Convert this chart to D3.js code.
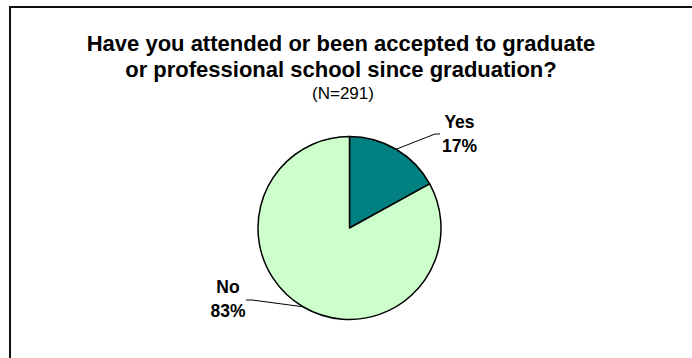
<!DOCTYPE html>
<html>
<head>
<meta charset="utf-8">
<script src="https://cdn.jsdelivr.net/npm/d3@7"></script>
<style>
  html, body { margin: 0; padding: 0; background: #fff; overflow: hidden; }
  svg { display: block; }
  text { font-family: Arial, "Liberation Sans", sans-serif; fill: #000; }
</style>
</head>
<body>
<svg id="chart" width="692" height="358"></svg>
<script>
// Survey responses
const categories = ["Yes", "No"];
const percents = [17, 83];
const colors = ["#008080", "#CCFFCC"];
const titleLines = [
  "Have you attended or been accepted to graduate",
  "or professional school since graduation?"
];
const subtitle = "(N=291)";

const svg = d3.select("#chart");
const W = +svg.attr("width"), H = +svg.attr("height");

// Frame edges (top and left; the frame runs on past the page)
svg.append("path")
  .attr("d", `M10,${H}V7H${W}`)
  .attr("fill", "none")
  .attr("stroke", "#111")
  .attr("stroke-width", 2);

// Title block
const titleX = 341;
svg.selectAll("text.title")
  .data(titleLines)
  .join("text")
  .attr("class", "title")
  .attr("x", titleX)
  .attr("y", (d, i) => 51 + i * 26)
  .attr("text-anchor", "middle")
  .style("font-size", "22px")
  .style("font-weight", "bold")
  .text(d => d);

svg.append("text")
  .attr("x", titleX + 2)
  .attr("y", 99)
  .attr("text-anchor", "middle")
  .style("font-size", "17px")
  .text(subtitle);

// Pie
const cx = 349.5, cy = 228, radius = 91.5;
const data = categories.map((c, i) => ({ name: c, value: percents[i], color: colors[i] }));

const pie = d3.pie().sort(null).value(d => d.value).startAngle(0).endAngle(2 * Math.PI);
const arc = d3.arc().innerRadius(0).outerRadius(radius);
const arcs = pie(data);

const g = svg.append("g").attr("transform", `translate(${cx},${cy})`);

g.selectAll("path.slice")
  .data(arcs)
  .join("path")
  .attr("class", "slice")
  .attr("d", arc)
  .attr("fill", d => d.data.color)
  .attr("stroke", "#000")
  .attr("stroke-width", 1.5)
  .attr("stroke-linejoin", "round");

// Label placement: text centre plus leader elbow/end, relative to the pie centre
const labelLayout = {
  Yes: { tx: 110, ty: -100, elbow: [85.5, -94], end: [90.5, -94] },
  No:  { tx: -121.5, ty: 65, elbow: [-97.5, 72], end: [-103.5, 72] }
};

arcs.forEach(a => {
  const L = labelLayout[a.data.name];
  const mid = (a.startAngle + a.endAngle) / 2;
  const p0 = [radius * Math.sin(mid), -radius * Math.cos(mid)];
  g.append("polyline")
    .attr("points", [p0, L.elbow, L.end].map(p => p.join(",")).join(" "))
    .attr("fill", "none")
    .attr("stroke", "#000")
    .attr("stroke-width", 1);

  const t = g.append("text")
    .attr("text-anchor", "middle")
    .style("font-size", "17.5px")
    .style("font-weight", "bold");
  t.append("tspan").attr("x", L.tx).attr("y", L.ty).text(a.data.name);
  t.append("tspan").attr("x", L.tx).attr("y", L.ty + 24).text(a.data.value + "%");
});
</script>
</body>
</html>
